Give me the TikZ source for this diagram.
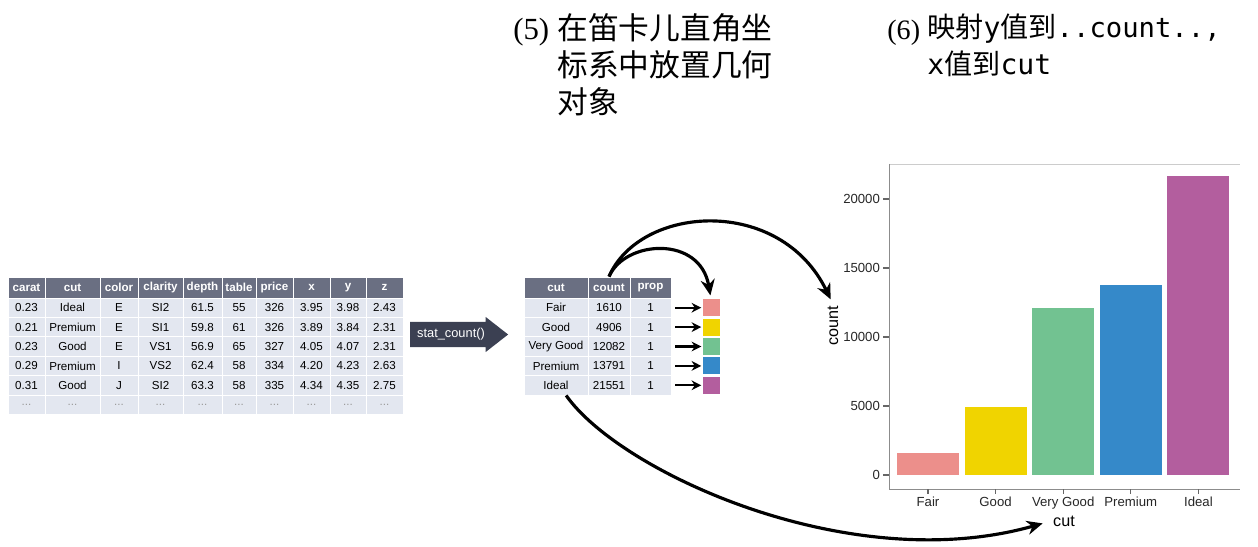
\documentclass[tikz,border=0pt]{standalone}
\usepackage{fontspec}
\setmainfont{Liberation Sans}
\newfontfamily\cjkfont{Noto Sans CJK SC}
\newfontfamily\numfont{Liberation Serif}
\newfontfamily\codefont{DejaVu Sans Mono}
\usetikzlibrary{arrows.meta,shapes.arrows,positioning,calc}

\definecolor{hdgray}{HTML}{6A6F82}
\definecolor{cellgray}{HTML}{E3E7F0}
\definecolor{statgray}{HTML}{3B4052}
\definecolor{cfair}{HTML}{EC8F8B}
\definecolor{cgood}{HTML}{F0D400}
\definecolor{cvgood}{HTML}{72C291}
\definecolor{cprem}{HTML}{3589C9}
\definecolor{cideal}{HTML}{B35E9E}

\def\acx{{26.5,72.5,119,160.5,202.5,239,274.5,311.5,348,384.5}}
\def\acw{{37,55,38,45,39,34,37,37,36,37}}
\def\bcx{{556,609,650.5}}
\def\bcw{{64,42,41}}

\begin{document}
\begin{tikzpicture}[
    x=0.02cm, y=-0.02cm,
    hd/.style={fill=hdgray, draw=white, line width=0.5pt, text=white, font=\fontsize{6.6}{7}\selectfont\bfseries, inner sep=0pt, minimum height=21*0.02cm},
    cell/.style={fill=cellgray, draw=white, line width=0.5pt, font=\fontsize{6.6}{7}\selectfont, inner sep=0pt, minimum height=19.4*0.02cm},
    sq/.style={minimum size=17*0.02cm, inner sep=0pt},
    arr/.style={-{Stealth[length=5.5pt,width=5.5pt]}, line width=1.2pt},
    bigarr/.style={-{Stealth[length=9pt,width=8pt]}, line width=1.8pt},
    ticklab/.style={font=\fontsize{7.5}{8}\selectfont, text=black!85, inner sep=1pt},
    axlab/.style={font=\fontsize{9.2}{10}\selectfont, inner sep=1pt},
    title/.style={inner sep=0pt, align=left}
]
\useasboundingbox (0,0) rectangle (1258,547);

% diamonds table
\foreach \lab/\cx/\cw [count=\c] in {carat/26.5/37, cut/72.5/55, color/119/38, clarity/160.5/45, depth/202.5/39, table/239/34, price/274.5/37, x/311.5/37, y/348/36, z/384.5/37}
  \node[hd, minimum width=\cw*0.02cm] (a-h-\c) at (\cx,287.5) {\lab};
\foreach \vals [count=\r] in {{0.23,Ideal,E,SI2,61.5,55,326,3.95,3.98,2.43},
                             {0.21,Premium,E,SI1,59.8,61,326,3.89,3.84,2.31},
                             {0.23,Good,E,VS1,56.9,65,327,4.05,4.07,2.31},
                             {0.29,Premium,I,VS2,62.4,58,334,4.20,4.23,2.63},
                             {0.31,Good,J,SI2,63.3,58,335,4.34,4.35,2.75}}
  \foreach \v [count=\c] in \vals {
    \pgfmathsetmacro\cx{\acx[\c-1]}
    \pgfmathsetmacro\cw{\acw[\c-1]}
    \node[cell, minimum width=\cw*0.02cm] (a-\r-\c) at (\cx,{298+19.4*\r-9.7}) {\v};
  }
\foreach \c in {1,...,10} {
  \pgfmathsetmacro\cx{\acx[\c-1]}
  \pgfmathsetmacro\cw{\acw[\c-1]}
  \node[cell, text=black!40, minimum width=\cw*0.02cm] (a-6-\c) at (\cx,{298+19.4*6-9.7}) {...};
}

\node[single arrow, fill=statgray, text=white, font=\fontsize{7.3}{8}\selectfont,
      minimum height=98*0.02cm, single arrow head extend=5*0.02cm, single arrow tip angle=76,
      inner xsep=2pt, inner ysep=3.6pt] (stat) at (451,334.5) {stat\_count()};

% counted table
\foreach \lab [count=\c] in {cut,count,prop} {
  \pgfmathsetmacro\cx{\bcx[\c-1]}
  \pgfmathsetmacro\cw{\bcw[\c-1]}
  \node[hd, minimum width=\cw*0.02cm] (b-h-\c) at (\cx,287.5) {\lab};
}
\foreach \vals [count=\r] in {{Fair,1610,1},{Good,4906,1},{Very Good,12082,1},{Premium,13791,1},{Ideal,21551,1}}
  \foreach \v [count=\c] in \vals {
    \pgfmathsetmacro\cx{\bcx[\c-1]}
    \pgfmathsetmacro\cw{\bcw[\c-1]}
    \node[cell, minimum width=\cw*0.02cm] (b-\r-\c) at (\cx,{298+19.4*\r-9.7}) {\v};
  }
\foreach \col [count=\r] in {cfair,cgood,cvgood,cprem,cideal} {
  \node[sq, fill=\col] (s-\r) at (711,{298+19.4*\r-9.7}) {};
  \draw[arr, shorten <=2.3pt, shorten >=0.5pt] (b-\r-3) -- (s-\r);
}

% bar chart (heights: count * 0.0138)
\draw[black!20, line width=0.4pt] (889,164) -- (1240,164);
\draw[black!45, line width=0.5pt] (889,164) -- (889,489) -- (1240,489);
\foreach \v/\h in {0/0, 5000/69, 10000/138, 15000/207, 20000/276} {
  \draw[black!60, line width=0.6pt] (883,475-\h) -- (889,475-\h);
  \node[ticklab, anchor=east] (yt-\v) at (882,475-\h) {\v};
}
\foreach \lab/\col/\h [count=\i] in {Fair/cfair/22.2, Good/cgood/67.7, Very Good/cvgood/166.7, Premium/cprem/190.3, Ideal/cideal/299} {
  \fill[\col] ({897+67.6*(\i-1)},475) rectangle ++(62,-\h);
  \draw[black!60, line width=0.6pt] ({928+67.6*(\i-1)},489) -- ++(0,5);
  \node[ticklab, anchor=north] (xt-\i) at ({928+67.6*(\i-1)},495) {\lab};
}
\node[axlab, rotate=90] (ylab) at (833,326) {count};
\node[axlab] (xlab) at (1064,521) {cut};

% titles
\node[title, font=\numfont\fontsize{17.5}{21}\selectfont, anchor=base west] (n5) at (513,40) {(5)};
\node[title, font=\cjkfont\fontsize{17.5}{21}\selectfont, anchor=north west] (t5) at (557,13) {在笛卡儿直角坐\\标系中放置几何\\对象};
\node[title, font=\numfont\fontsize{16}{21}\selectfont, anchor=base west] (n6) at (887,40) {(6)};
\node[title, font=\cjkfont\fontsize{16}{21}\selectfont, anchor=north west] (t6) at (927,14)
  {映射{\codefont y}值到{\codefont\fontsize{15.5}{21}\selectfont ..count..,}\\{\codefont x}值到{\codefont cut}};

% mapping arrows
\draw[bigarr, shorten >=2pt] (b-h-2.north) .. controls (625,240) and (700,235) .. (s-1.north);
\draw[bigarr, shorten >=3pt] (b-h-2.north) .. controls (640,205) and (780,195) .. (ylab.east);
\draw[bigarr, shorten >=5pt] (b-5-1.-45) .. controls (620,472) and (850,578) .. (xlab.west);
\end{tikzpicture}
\end{document}
